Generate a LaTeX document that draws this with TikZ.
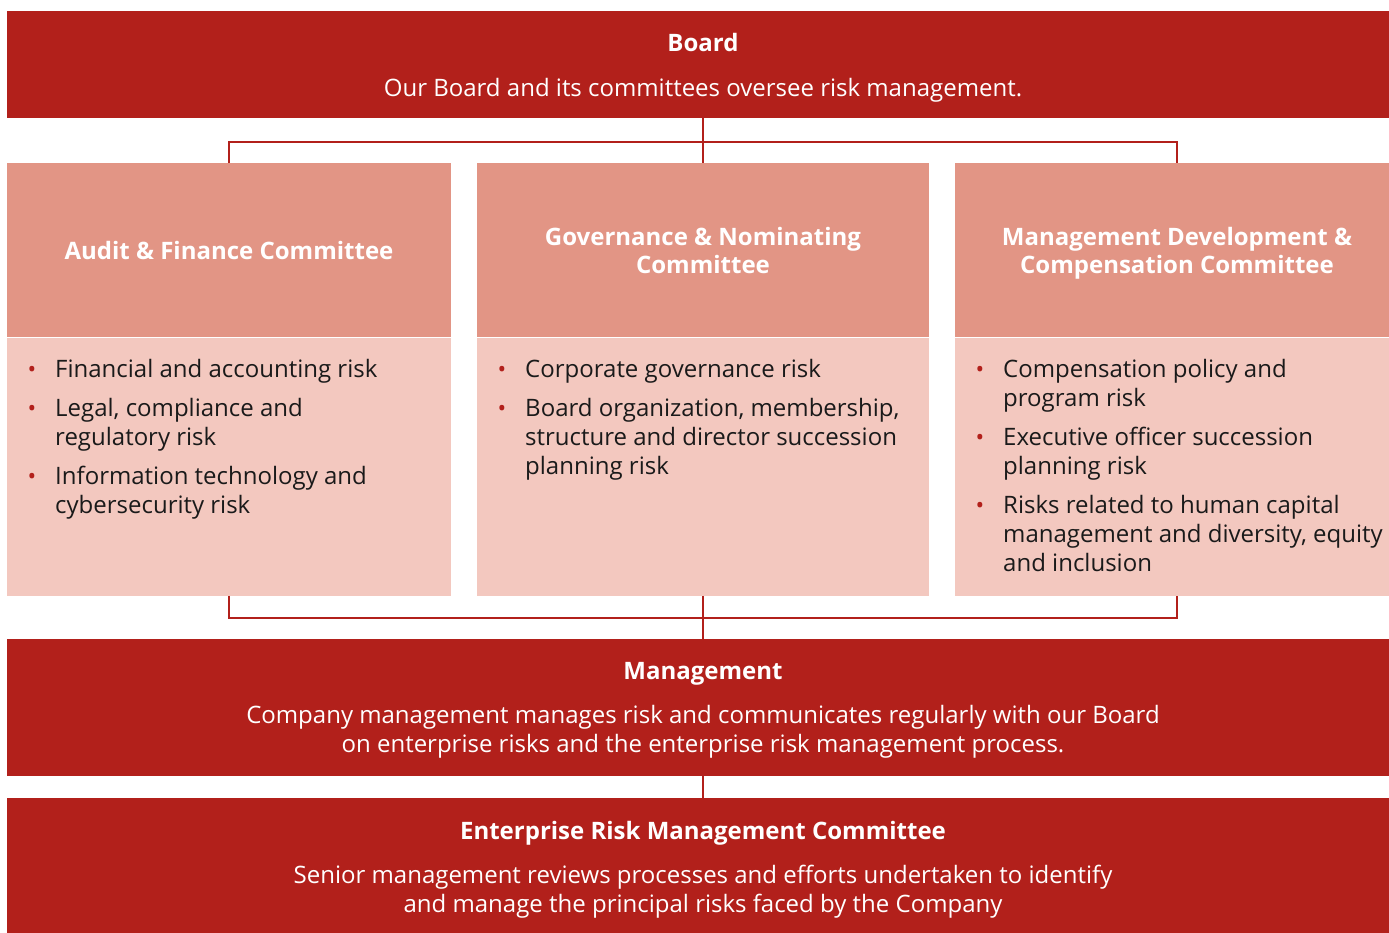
\documentclass[tikz,border=0pt]{standalone}
\usepackage{fontspec}
\setmainfont{Open Sans}
\usepackage{xcolor}
\usetikzlibrary{positioning}

\definecolor{boardred}{HTML}{B2201B}
\definecolor{headpink}{HTML}{E29585}
\definecolor{bodypink}{HTML}{F3C8BF}
\definecolor{risktext}{HTML}{1A1A1A}

\newcommand{\rb}{\llap{\textcolor{boardred}{\fontsize{23}{23}\selectfont\textbullet}\hspace{19pt}}}

\tikzset{
    bigbox/.style={fill=boardred, minimum width=1392pt, inner sep=0pt, anchor=north},
    headbox/.style={fill=headpink, minimum height=174pt, inner sep=0pt, anchor=north, text=white, font=\bfseries\fontsize{24}{28}\selectfont, align=center},
    bodybox/.style={fill=bodypink, minimum height=258pt, inner sep=0pt},
    risklist/.style={anchor=north west, inner sep=0pt, align=left, text=risktext, font=\fontsize{24}{29}\selectfont},
    boxtitle/.style={text=white, font=\bfseries\fontsize{24}{28}\selectfont, inner sep=0pt},
    boxtext/.style={text=white, font=\fontsize{24}{29}\selectfont, align=center, inner sep=0pt},
    link/.style={draw=boardred, line width=2pt}
}

\begin{document}
\begin{tikzpicture}[x=1pt,y=-1pt]
    \useasboundingbox (0,0) rectangle (1389,932);
    \clip (0,0) rectangle (1389,932);

    \node[bigbox, minimum height=107pt] (board) at (703,11) {};
    \node[boxtitle] (boardtitle) at (703,42) {Board};
    \node[boxtext] (boardtext) at (703,90) {Our Board and its committees oversee risk management.};

    \node[headbox, minimum width=444pt] (audit) at (229,163) {Audit \& Finance Committee};
    \node[headbox, minimum width=452pt] (gov) at (703,163) {Governance \& Nominating\\Committee};
    \node[headbox, minimum width=444pt] (mdc) at (1177,163) {Management Development \&\\\raisebox{0pt}[\height][0pt]{Compensation Committee}};

    \node[bodybox, minimum width=444pt, below=0pt of audit] (auditrisk) {};
    \node[bodybox, minimum width=452pt, below=0pt of gov] (govrisk) {};
    \node[bodybox, minimum width=444pt, below=0pt of mdc] (mdcrisk) {};

    \node[risklist] (auditlist) at (55,359) {\rb Financial and accounting risk\\[10pt]
        \rb Legal, compliance and\\regulatory risk\\[10pt]
        \rb Information technology and\\cybersecurity risk};
    \node[risklist] (govlist) at (525,359) {\rb Corporate governance risk\\[10pt]
        \rb Board organization, membership,\\structure and director succession\\planning risk};
    \node[risklist] (mdclist) at (1003,359) {\rb Compensation policy and\\program risk\\[10pt]
        \rb Executive officer succession\\planning risk\\[10pt]
        \rb Risks related to human capital\\management and diversity, equity\\and inclusion};

    \node[bigbox, minimum height=137pt] (mgmt) at (703,639) {};
    \node[boxtitle] (mgmttitle) at (703,674) {Management};
    \node[boxtext] (mgmttext) at (703,732) {Company management manages risk and communicates regularly with our Board\\on enterprise risks and the enterprise risk management process.};

    \node[bigbox, minimum height=140pt] (erm) at (703,798) {};
    \node[boxtitle] (ermtitle) at (703,833) {Enterprise Risk Management Committee};
    \node[boxtext] (ermtext) at (703,892) {Senior management reviews processes and efforts undertaken to identify\\and manage the principal risks faced by the Company};

    \draw[link] (audit.north) -- ++(0,-21) -| (mdc.north);
    \draw[link] (board.south) -- (gov.north);
    \draw[link] (auditrisk.south) -- ++(0,22) -| (mdcrisk.south);
    \draw[link] (govrisk.south) -- (mgmt.north);
    \draw[link] (mgmt.south) -- (erm.north);
\end{tikzpicture}
\end{document}
